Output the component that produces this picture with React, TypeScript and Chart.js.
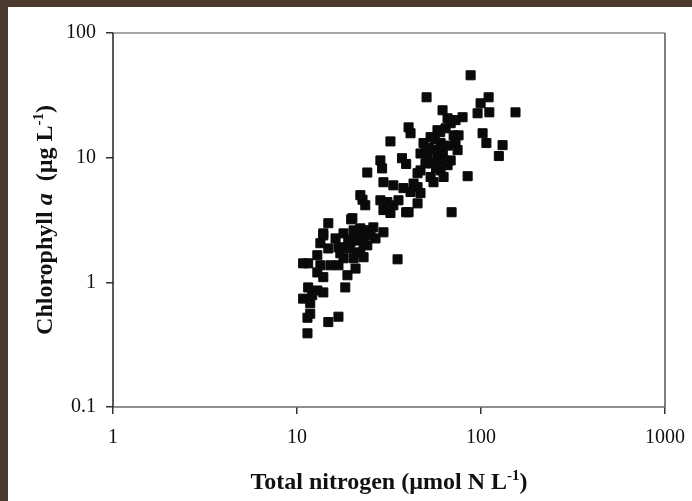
import React, { useEffect, useRef } from "react";
import { Chart, registerables } from "chart.js";

Chart.register(...registerables);

// Total nitrogen (µmol N L-1)
const nitrogen = [
  87.8, 50.6, 110, 99.5, 95.8, 111, 154, 79.4, 61.8, 65.8,
  40.4, 41.4, 32.2, 102, 107, 131, 125, 84.6, 69.2, 35.2,
  24.1, 28.4, 29.0, 37.2, 39.2, 45.2, 39.2, 22.7, 19.7, 14.8,
  68.4, 58.0, 71.0, 75.5, 53.2, 48.7, 60.3, 74.6, 58.0, 46.9,
  68.4, 51.2, 58.0, 49.9, 46.9, 60.3, 53.2, 62.6, 45.2, 43.0,
  55.2, 46.9, 64.2, 72.7, 65.8, 55.2, 72.7, 29.5, 33.4, 37.9,
  45.2, 41.4, 28.4, 31.0, 33.4, 29.5, 32.2, 35.6, 40.4, 23.5,
  20.0, 17.9, 20.3, 23.0, 26.0, 29.5, 20.3, 18.8, 23.0, 17.2,
  21.3, 22.1, 13.9, 13.4, 16.2, 16.8, 22.1, 25.1, 26.7, 21.3,
  24.1, 19.5, 22.1, 20.3, 17.9, 23.0, 12.9, 11.5, 13.4, 15.2,
  16.8, 12.9, 13.9, 20.8, 18.8, 18.3, 11.5, 12.9, 13.9, 10.8,
  11.8, 11.4, 11.8, 14.8, 16.8, 11.4, 10.8, 14.8, 13.9, 12.1,
  52.0, 56.0, 62.0, 66.0, 60.0, 54.0, 63.0, 50.0, 57.0, 21.0,
  22.5, 19.0, 24.0,
];

// Chlorophyll a (µg L-1)
const chlorophyll = [
  45.8, 30.5, 30.5, 27.3, 22.7, 23.1, 23.1, 21.1, 24.0, 20.7,
  17.5, 15.7, 13.5, 15.7, 13.1, 12.6, 10.3, 7.1, 3.65, 1.53,
  7.6, 9.5, 8.2, 9.9, 8.9, 4.3, 3.65, 4.6, 3.2, 2.98,
  18.9, 16.6, 15.1, 15.1, 14.6, 13.1, 13.1, 11.5, 10.8, 10.8,
  9.5, 10.1, 9.5, 9.0, 7.9, 7.9, 7.0, 7.0, 7.5, 6.2,
  6.35, 5.2, 17.2, 13.1, 8.7, 11.5, 20.0, 6.35, 6.0, 5.7,
  5.8, 5.3, 4.55, 4.4, 4.15, 3.8, 3.6, 4.55, 3.65, 4.15,
  3.27, 2.47, 2.61, 2.61, 2.76, 2.52, 2.17, 1.91, 2.06, 1.71,
  1.71, 5.0, 2.47, 2.06, 2.25, 1.91, 2.71, 2.61, 2.25, 2.17,
  1.98, 1.87, 1.74, 1.56, 1.56, 1.59, 1.65, 1.42, 1.37, 1.37,
  1.37, 1.20, 1.10, 1.29, 1.14, 0.91, 0.91, 0.86, 0.83, 0.74,
  0.68, 0.52, 0.56, 0.48, 0.53, 0.39, 1.42, 1.87, 2.38, 0.79,
  12.0, 14.0, 11.0, 12.5, 16.0, 9.0, 9.5, 11.5, 8.3, 2.4,
  2.3, 2.2, 2.4,
];

const xTickValues = [1, 10, 100, 1000];
const xTickLabels = ["1", "10", "100", "1000"];
const yTickValues = [0.1, 1, 10, 100];
const yTickLabels = ["0.1", "1", "10", "100"];

const SERIF = "'Liberation Serif', 'Times New Roman', serif";

const xTitleParts = [
  { text: "Total nitrogen (µmol N L", font: `bold 24px ${SERIF}`, dy: 0 },
  { text: "-1", font: `bold 15px ${SERIF}`, dy: -9 },
  { text: ")", font: `bold 24px ${SERIF}`, dy: 0 },
];

const yTitleParts = [
  { text: "Chlorophyll ", font: `bold 24px ${SERIF}`, dy: 0 },
  { text: "a", font: `italic bold 24px ${SERIF}`, dy: 0 },
  { text: "  (µg L", font: `bold 24px ${SERIF}`, dy: 0 },
  { text: "-1", font: `bold 15px ${SERIF}`, dy: -9 },
  { text: ")", font: `bold 24px ${SERIF}`, dy: 0 },
];

type Part = { text: string; font: string; dy: number };

function drawRich(ctx: CanvasRenderingContext2D, parts: Part[], cx: number, cy: number, rotate: boolean) {
  ctx.save();
  ctx.translate(cx, cy);
  if (rotate) ctx.rotate(-Math.PI / 2);
  let total = 0;
  parts.forEach((p) => {
    ctx.font = p.font;
    total += ctx.measureText(p.text).width;
  });
  let x = -total / 2;
  ctx.textAlign = "left";
  ctx.textBaseline = "alphabetic";
  ctx.fillStyle = "#111";
  parts.forEach((p) => {
    ctx.font = p.font;
    ctx.fillText(p.text, x, p.dy);
    x += ctx.measureText(p.text).width;
  });
  ctx.restore();
}

const framePlugin = {
  id: "frame",
  beforeDatasetsDraw(chart: any) {
    const { ctx, chartArea: a } = chart;
    const seg = (x1: number, y1: number, x2: number, y2: number, c: string) => {
      ctx.beginPath();
      ctx.strokeStyle = c;
      ctx.moveTo(x1, y1);
      ctx.lineTo(x2, y2);
      ctx.stroke();
    };
    ctx.save();
    ctx.lineWidth = 1.5;
    seg(a.left, a.top, a.right, a.top, "#8a8a8a");
    seg(a.right, a.top, a.right, a.bottom, "#555");
    seg(a.left, a.bottom, a.right, a.bottom, "#6a6a6a");
    seg(a.left, a.top, a.left, a.bottom, "#222");
    ctx.restore();
  },
  afterDraw(chart: any) {
    const { ctx, chartArea: a } = chart;
    drawRich(ctx, xTitleParts, (a.left + a.right) / 2, 482, false);
    drawRich(ctx, yTitleParts, 44, (a.top + a.bottom) / 2, true);
  },
};

export default function App() {
  const ref = useRef<HTMLCanvasElement | null>(null);

  useEffect(() => {
    document.body.style.margin = "0";
    const canvas = ref.current;
    if (!canvas) return;
    const points = nitrogen.map((x, i) => ({ x, y: chlorophyll[i] }));
    const chart = new Chart(canvas, {
      type: "scatter",
      data: {
        datasets: [
          {
            data: points,
            pointStyle: "rect",
            pointRadius: 6.4,
            borderWidth: 1,
            backgroundColor: "#0a0a0a",
            borderColor: "#0a0a0a",
          },
        ],
      },
      options: {
        animation: false,
        responsive: false,
        maintainAspectRatio: false,
        layout: { padding: { top: 26, right: 27, left: 0, bottom: 0 }, autoPadding: false },
        plugins: { legend: { display: false }, tooltip: { enabled: false } },
        scales: {
          x: {
            type: "logarithmic",
            min: 1,
            max: 1000,
            afterBuildTicks: (s: any) => {
              s.ticks = xTickValues.map((v) => ({ value: v }));
            },
            afterFit: (s: any) => {
              s.height = 94;
              s.paddingLeft = 0;
              s.paddingRight = 0;
            },
            ticks: {
              callback: (v: any) => xTickLabels[xTickValues.indexOf(Number(v))],
              font: { family: SERIF, size: 20 },
              color: "#111",
              padding: 12,
              maxRotation: 0,
              autoSkip: false,
            },
            grid: { drawOnChartArea: false, drawTicks: true, tickLength: 7, color: "#333", lineWidth: 1.5 },
            border: { display: false },
          },
          y: {
            type: "logarithmic",
            min: 0.1,
            max: 100,
            afterBuildTicks: (s: any) => {
              s.ticks = yTickValues.map((v) => ({ value: v }));
            },
            afterFit: (s: any) => {
              s.width = 105;
              s.paddingTop = 0;
              s.paddingBottom = 0;
            },
            ticks: {
              callback: (v: any) => yTickLabels[yTickValues.indexOf(Number(v))],
              font: { family: SERIF, size: 20 },
              color: "#111",
              padding: 10,
              autoSkip: false,
            },
            grid: { drawOnChartArea: false, drawTicks: true, tickLength: 7, color: "#333", lineWidth: 1.5 },
            border: { display: false },
          },
        },
      },
      plugins: [framePlugin],
    } as any);
    return () => chart.destroy();
  }, []);

  return (
    <div style={{ position: "relative", width: 692, height: 501, background: "#4b3a2d", overflow: "hidden" }}>
      <div style={{ position: "absolute", left: 8, top: 7, width: 684, height: 494, background: "#fff" }}>
        <canvas ref={ref} width={684} height={494} style={{ display: "block" }} />
      </div>
    </div>
  );
}
